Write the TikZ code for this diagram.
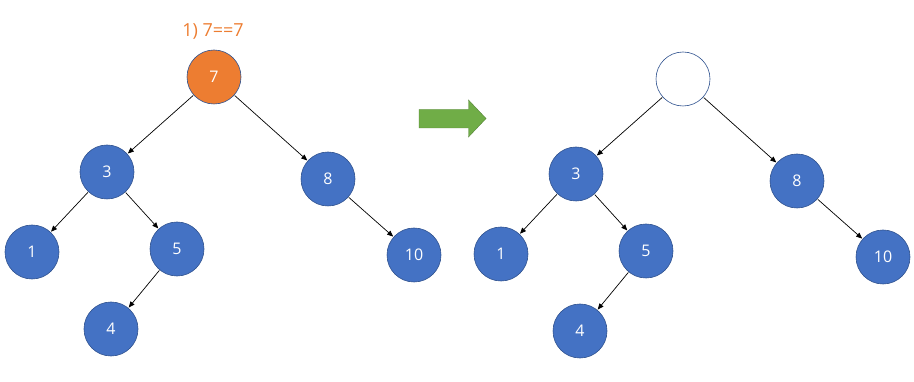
\documentclass[tikz,border=0pt]{standalone}
\usepackage{fontspec}
\setmainfont{Open Sans}
\usetikzlibrary{arrows.meta}
\definecolor{nodeblue}{HTML}{4472C4}
\definecolor{edgeblue}{HTML}{2F528F}
\definecolor{orangeA}{HTML}{ED7D31}
\definecolor{greenA}{HTML}{70AD47}
\definecolor{greenB}{HTML}{548235}
\tikzset{
  tnode/.style={circle, minimum size=54pt, inner sep=0pt, fill=nodeblue, draw=edgeblue, line width=0.6pt, text=white, font=\fontsize{16}{19}\selectfont},
  hnode/.style={tnode, fill=orangeA},
  enode/.style={tnode, fill=white},
  link/.style={draw=black, line width=0.7pt, -{Triangle[length=6pt,width=5pt]}, shorten <=0.5pt, shorten >=0.5pt},
}
\begin{document}
\begin{tikzpicture}[x=1pt,y=-1pt]
\useasboundingbox (0,0) rectangle (914,382);
% left tree
\node[hnode] (a7) at (214,77) {7};
\node[tnode] (a3) at (107,172) {3};
\node[tnode] (a8) at (328,179) {8};
\node[tnode] (a1) at (32,252) {1};
\node[tnode] (a5) at (177,249) {5};
\node[tnode] (a10) at (414,255) {10};
\node[tnode] (a4) at (111,329) {4};
\node[text=orangeA, font=\fontsize{18}{21}\selectfont] (lbl) at (213,32) {1) 7==7};
\draw[link] (a7) -- (a3);
\draw[link] (a7) -- (a8);
\draw[link] (a3) -- (a1);
\draw[link] (a3) -- (a5);
\draw[link] (a5) -- (a4);
\draw[link] (a8) -- (a10);
% arrow
\filldraw[fill=greenA, draw=greenB, line width=0.4pt]
  (419,109.5) -- (468.5,109.5) -- (468.5,100) -- (486,118.5) -- (468.5,137) -- (468.5,128) -- (419,128) -- cycle;
% right tree
\node[enode] (b7) at (683,79) {};
\node[tnode] (b3) at (576,174) {3};
\node[tnode] (b8) at (797,181) {8};
\node[tnode] (b1) at (501,254) {1};
\node[tnode] (b5) at (646,251) {5};
\node[tnode] (b10) at (883,257) {10};
\node[tnode] (b4) at (580,331) {4};
\draw[link] (b7) -- (b3);
\draw[link] (b7) -- (b8);
\draw[link] (b3) -- (b1);
\draw[link] (b3) -- (b5);
\draw[link] (b5) -- (b4);
\draw[link] (b8) -- (b10);
\end{tikzpicture}
\end{document}
